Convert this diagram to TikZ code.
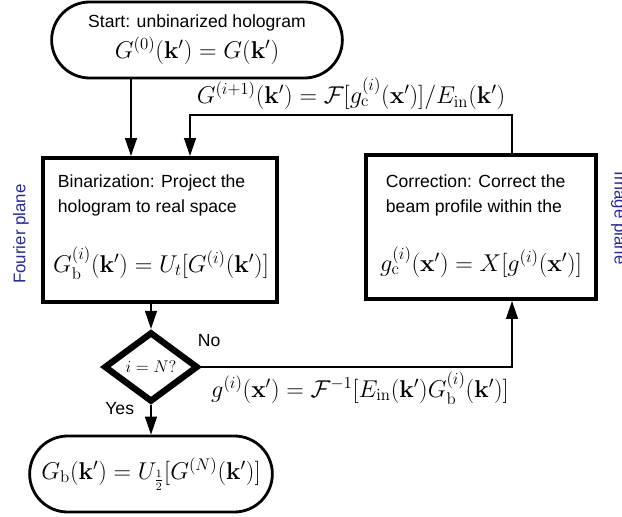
\documentclass[tikz,border=0pt]{standalone}
\usepackage{amsmath}
\usepackage[no-math]{fontspec}
\setmainfont{Liberation Sans}
\usepackage{xcolor}
\usetikzlibrary{shapes.geometric, shapes.misc, arrows.meta}
\definecolor{planeblue}{RGB}{40,40,160}

\newcommand{\eqsize}{\fontsize{17}{20}\selectfont}

\tikzset{
    terminal/.style={rounded rectangle, draw, line width=2pt, minimum height=1.9cm},
    process/.style={rectangle, draw, line width=2.8pt, minimum width=5.85cm, minimum height=3.6cm},
    decision/.style={diamond, draw, line width=4.5pt, minimum width=2.35cm, minimum height=1.75cm, inner sep=0pt},
    arr/.style={-{Triangle[length=4.5mm,width=3mm]}, line width=1pt},
    plane/.style={text=planeblue, font=\fontsize{12}{14}\selectfont},
}

\begin{document}
\begin{tikzpicture}[x=0.025cm, y=-0.025cm, font=\fontsize{12.5}{17.5}\selectfont]
    \useasboundingbox (0,0) rectangle (622,517);

    % flow chart blocks
    \node[terminal, minimum width=7.5cm, align=center] (start) at (197,40)
        {Start: unbinarized hologram\\[3pt] {\eqsize$G^{(0)}(\mathbf{k}')=G(\mathbf{k}')$}};
    \node[process] (bin) at (160,230) {};
    \node[anchor=north west, align=left] (bintext) at (53,170)
        {Binarization: Project the\\hologram to real space};
    \node[font=\eqsize] (bineq) at (161,263) {$G^{(i)}_{\mathrm{b}}(\mathbf{k}')=U_t[G^{(i)}(\mathbf{k}')]$};

    \node[process, minimum width=5.75cm] (corr) at (481,227) {};
    \node[anchor=north west, align=left] (corrtext) at (381,170)
        {Correction: Correct the\\beam profile within the};
    \node[font=\eqsize] (correq) at (481,262) {$g^{(i)}_{\mathrm{c}}(\mathbf{x}')=X[g^{(i)}(\mathbf{x}')]$};

    \node[decision, font=\fontsize{13}{15}\selectfont] (check) at (151,367) {$i=N?$};
    \node[terminal, minimum width=6.3cm, font=\eqsize] (final) at (151,474)
        {$G_{\mathrm{b}}(\mathbf{k}')=U_{\frac{1}{2}}[G^{(N)}(\mathbf{k}')]$};

    % planes
    \node[plane, rotate=90] (fourier) at (21,234) {Fourier plane};
    \node[plane, rotate=-90] (image) at (619,218) {Image plane};

    % connectors
    \coordinate (inA) at ([xshift=-0.725cm]bin.north);
    \coordinate (inB) at ([xshift=0.75cm]bin.north);
    \coordinate (outC) at ([xshift=0.775cm]corr.north);
    \coordinate (inC) at ([xshift=0.775cm]corr.south);
    \draw[arr] (inA |- start.south) -- (inA);
    \draw[arr] (outC) -- (outC |- 0,115) -- (inB |- 0,115)
        node[midway, above, font=\eqsize] (backlabel)
        {$G^{(i+1)}(\mathbf{k}')=\mathcal{F}[g^{(i)}_{\mathrm{c}}(\mathbf{x}')]/E_{\mathrm{in}}(\mathbf{k}')$}
        -- (inB);
    \draw[arr] (bin.south -| check.north) -- (check.north);
    \draw[arr] (check.east) -- (inC |- check.east) -- (inC);
    \node[anchor=south west] (nolabel) at (193,352) {No};
    \node[anchor=north, font=\eqsize] (fwdlabel) at (360,367)
        {$g^{(i)}(\mathbf{x}')=\mathcal{F}^{-1}[E_{\mathrm{in}}(\mathbf{k}')G^{(i)}_{\mathrm{b}}(\mathbf{k}')]$};
    \draw[arr] (check.south) -- (final.north);
    \node[anchor=east] (yeslabel) at (139,409) {Yes};
\end{tikzpicture}
\end{document}
